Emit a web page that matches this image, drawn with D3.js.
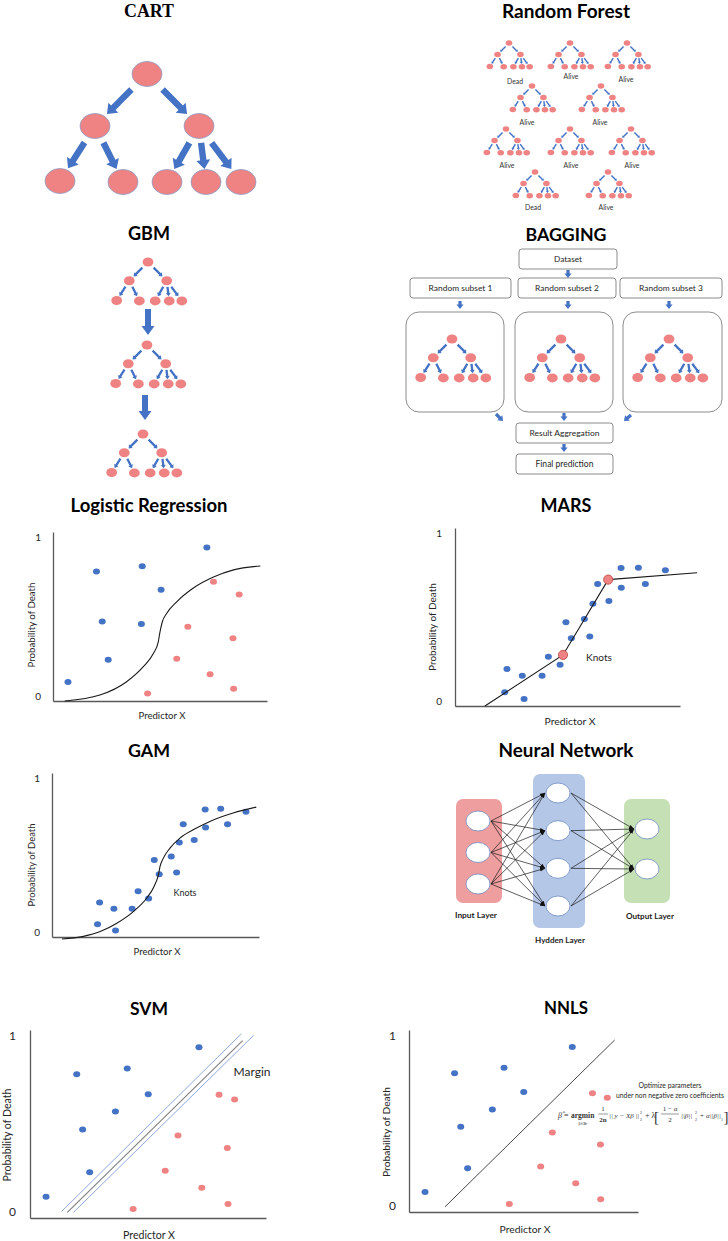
<!DOCTYPE html>
<html><head><meta charset="utf-8">
<script src="https://cdn.jsdelivr.net/npm/d3@7"></script>
<style>body{margin:0;background:#fff}svg{display:block}</style>
</head><body>
<svg id="c" width="728" height="1241"></svg>
<script>
// ================= DATA =================
const titles = ["CART","Random Forest","GBM","BAGGING","Logistic Regression","MARS","GAM","Neural Network","SVM","NNLS"];
const forestVotes = ["Dead","Alive","Alive","Alive","Alive","Alive","Alive","Alive","Dead","Alive"];
const gbmStages = [1,2,3];
const baggingSubsets = ["Random subset 1","Random subset 2","Random subset 3"];
const baggingFlow = ["Dataset","Result Aggregation","Final prediction"];
const yTickLabels = ["0","1"];
const xAxisTitle = "Predictor X";
const yAxisTitle = "Probability of Death";
const knotsLabel = "Knots";
const marginLabel = "Margin";
const nnLayerNames = ["Input Layer","Hydden Layer","Output Layer"];
const nnLayerSizes = [3,4,2];
const nnlsNote = ["Optimize parameters","under non negative zero coefficients"];

const logisticBlue = [[.070,.112],[.203,.766],[.230,.470],[.258,.244],[.417,.797],[.413,.455],[.505,.659],[.719,.909]];
const logisticPink = [[.442,.045],[.578,.250],[.630,.439],[.750,.705],[.870,.630],[.841,.372],[.734,.159],[.844,.073]];
const logisticCurve = [[.055,0],[.219,.035],[.344,.114],[.422,.203],[.469,.281],[.492,.350],[.5,.409],[.511,.469],[.531,.518],[.578,.587],[.656,.669],[.75,.734],[.844,.776],[.969,.799]];

const marsPoints = [[.221,.077],[.231,.208],[.299,.170],[.307,.039],[.387,.170],[.415,.277],[.467,.232],[.493,.470],[.517,.380],[.575,.489],[.599,.391],[.613,.575],[.634,.685],[.684,.590],[.738,.775],[.739,.665],[.815,.777],[.846,.685],[.935,.762]];
const marsLine = [[.133,0],[.48,.287],[.681,.710],[1.076,.749]];
const marsKnots = [[.48,.287],[.681,.710]];

const gamPoints = [[.220,.077],[.230,.210],[.299,.173],[.307,.039],[.387,.173],[.416,.279],[.467,.234],[.494,.470],[.518,.383],[.576,.491],[.602,.393],[.615,.576],[.634,.688],[.687,.591],[.740,.778],[.742,.668],[.815,.782],[.848,.688],[.937,.764]];
const gamCurve = [[.048,-.012],[.152,.004],[.233,.033],[.313,.084],[.393,.155],[.457,.236],[.493,.308],[.514,.379],[.522,.430],[.538,.481],[.570,.542],[.618,.603],[.682,.654],[.763,.705],[.875,.756],[.987,.792]];

const svmBlue = [[.068,.113],[.198,.765],[.223,.471],[.253,.244],[.412,.795],[.362,.566],[.501,.658],[.716,.908]];
const svmPink = [[.437,.048],[.573,.251],[.627,.439],[.801,.655],[.867,.630],[.836,.373],[.728,.161],[.839,.074]];
const svmHyperplane = [[.158,.030],[.901,.943]];
const svmMarginUpper = [[.134,.035],[.895,.979]];
const svmMarginLower = [[.184,.030],[.948,.972]];

const nnlsBlue = [[.070,.110],[.199,.763],[.226,.468],[.256,.240],[.415,.793],[.364,.563],[.501,.659],[.713,.906]];
const nnlsPink = [[.438,.044],[.575,.250],[.626,.437],[.801,.653],[.866,.628],[.836,.371],[.728,.158],[.837,.070]];
const nnlsLine = [[.157,.028],[.898,.945]];

// ================= STYLE / LAYOUT =================
const FONT = "Lato, 'Open Sans', 'Liberation Sans', sans-serif";
const SERIF = "'Liberation Serif', 'DejaVu Serif', serif";
const PINK = "#EF8383", BLUE = "#4472C4", AXIS = "#595959";
const svg = d3.select("#c");
svg.append("rect").attr("width",728).attr("height",1241).attr("fill","#fff");

// tree template (relative units)
const treeNodes = [{id:"r",x:0,y:0},{id:"a",x:-52,y:52},{id:"b",x:52,y:52},
  {id:"a1",x:-87,y:107},{id:"a2",x:-24,y:108},{id:"b1",x:20,y:108},{id:"b2",x:59,y:108},{id:"b3",x:94,y:108}];
const treeEdges = [["r","a"],["r","b"],["a","a1"],["a","a2"],["b","b1"],["b","b2"],["b","b3"]];

function fitW(sel, w){
  sel.each(function(){
    const fs = parseFloat(this.getAttribute("font-size"));
    const L = this.getComputedTextLength();
    if (L > 0) this.setAttribute("font-size", (fs*w/L).toFixed(2));
  });
  return sel;
}
function label(g, x, y, txt, w, o={}){
  const t = g.append("text").attr("x",x).attr("y",y).text(txt)
    .attr("text-anchor", o.anchor||"middle").attr("font-family", o.family||FONT)
    .attr("font-size", o.size||10).attr("font-weight", o.weight||"normal")
    .attr("fill", o.fill||"#262626");
  if (o.transform) t.attr("transform", o.transform);
  if (w) fitW(t, w);
  return t;
}
function blockArrow(g, x1,y1,x2,y2, w, hw, hl, color){
  const dx=x2-x1, dy=y2-y1, L=Math.hypot(dx,dy), ux=dx/L, uy=dy/L, nx=-uy, ny=ux;
  const bx=x2-ux*hl, by=y2-uy*hl;
  const pts=[[x1+nx*w,y1+ny*w],[bx+nx*w,by+ny*w],[bx+nx*hw,by+ny*hw],[x2,y2],
             [bx-nx*hw,by-ny*hw],[bx-nx*w,by-ny*w],[x1-nx*w,y1-ny*w]];
  g.append("path").attr("d", d3.line()(pts)+"Z").attr("fill", color||BLUE);
}
function drawTree(g, cx, cy, s, stroke){
  const sx = d3.scaleLinear().domain([0,1]).range([cx, cx+s]);
  const sy = d3.scaleLinear().domain([0,1]).range([cy, cy+s]);
  const byId = new Map(treeNodes.map(d=>[d.id,d]));
  treeEdges.forEach(([p,c])=>{
    const a=byId.get(p), b=byId.get(c), t0=0.3, t1=0.77;
    blockArrow(g, sx(a.x+(b.x-a.x)*t0), sy(a.y+(b.y-a.y)*t0),
                  sx(a.x+(b.x-a.x)*t1), sy(a.y+(b.y-a.y)*t1), 3.2*s, 7*s, 9*s, BLUE);
  });
  g.selectAll(null).data(treeNodes).join("ellipse")
    .attr("cx",d=>sx(d.x)).attr("cy",d=>sy(d.y)).attr("rx",15*s).attr("ry",12.5*s)
    .attr("fill",PINK).attr("stroke", stroke||"none").attr("stroke-width",0.8);
}

// ---------- titles ----------
const titleLayout = [[149,17,50,true],[566,17.5,128],[149,240,42],[566,241,81],[149,512,157],
  [566,512,51],[149,757,42],[566,757,135],[149,1015,38],[566,1014,44]];
const tg = svg.append("g");
titles.forEach((t,i)=>{
  const [x,y,w,serif] = titleLayout[i];
  label(tg, x, y, t, w, {size:19, weight:"bold", family: serif?SERIF:FONT, fill:"#000"});
});

// ---------- CART ----------
drawTree(svg.append("g"), 147, 74, 1, "#8E9CC4");

// ---------- Random forest ----------
const forestRoots = [[509,43],[570,43],[627,43],[532,86],[601,86],[506,129],[570,129],[631,129],[535,172],[608,172]];
const forestLabelPos = [[515,84],[571,79],[626,82],[527,125],[600,125],[507,168],[571,168],[632,168],[533,210],[606,210]];
const fg = svg.append("g");
forestVotes.forEach((v,i)=>{
  drawTree(fg, forestRoots[i][0], forestRoots[i][1], 0.22);
  label(fg, forestLabelPos[i][0], forestLabelPos[i][1], v, v==="Dead"?16:15, {size:8, fill:"#333"});
});

// ---------- GBM ----------
const gbmRoots = [[148,262],[147,345],[143,434]];
const gbmArrows = [[148,309,148,335],[145,395,145,420]];
const gg = svg.append("g");
gbmStages.forEach((s,i)=>{
  drawTree(gg, gbmRoots[i][0], gbmRoots[i][1], 0.36);
  if (i < gbmStages.length-1){ const a=gbmArrows[i]; blockArrow(gg, a[0],a[1],a[2],a[3], 3, 6.5, 9, BLUE); }
});

// ---------- BAGGING ----------
const bg = svg.append("g");
function box(x0,y0,x1,y1,r){ bg.append("rect").attr("x",x0).attr("y",y0).attr("width",x1-x0).attr("height",y1-y0)
  .attr("rx",r).attr("fill","#fff").attr("stroke","#7F7F7F").attr("stroke-width",0.9); }
const flowBoxes = [[519,249,617,269,28],[516,423,613,443,70],[516,454,613,474,58]];
baggingFlow.forEach((t,i)=>{ const b=flowBoxes[i]; box(b[0],b[1],b[2],b[3],3);
  label(bg,(b[0]+b[2])/2,(b[1]+b[3])/2+3.3,t,b[4],{size:9.5,fill:"#262626"}); });
const subsetBoxes = [[410,278,511,298],[518,278,616,298],[620,278,722,298]];
const bigBoxes = [[406,312,504,412],[515,312,613,412],[623,312,722,412]];
const bagRoots = [[452,339],[561,339],[669,339]];
const subsetArrowX = [460,568,669];
const outArrows = [[496,414,503,421],[564,413,564,421],[631,415,624,421]];
baggingSubsets.forEach((t,i)=>{
  const b=subsetBoxes[i]; box(b[0],b[1],b[2],b[3],3);
  label(bg,(b[0]+b[2])/2,(b[1]+b[3])/2+3.3,t,64,{size:9.5});
  const B=bigBoxes[i]; box(B[0],B[1],B[2],B[3],13);
  drawTree(bg, bagRoots[i][0], bagRoots[i][1], 0.36);
  blockArrow(bg, subsetArrowX[i],301, subsetArrowX[i],309, 1.6,3.6,4.5,BLUE);
  const a=outArrows[i]; blockArrow(bg,a[0],a[1],a[2],a[3],1.6,3.6,4.5,BLUE);
});
blockArrow(bg,568,270,568,278,1.6,3.6,4.5,BLUE);
blockArrow(bg,564,444,564,452,1.6,3.6,4.5,BLUE);

// ---------- scatter panels ----------
function scatterPanel(c){
  const g = svg.append("g");
  const x = d3.scaleLinear().domain([0,1]).range([c.left,c.right]);
  const y = d3.scaleLinear().domain([0,1]).range([c.bottom,c.top]);
  const gy = g.append("g").attr("transform",`translate(${c.left},0)`)
    .call(d3.axisLeft(y).tickValues([0,1]).tickFormat((d,i)=>yTickLabels[i]).tickSize(0).tickSizeOuter(0).tickPadding(c.pad));
  const gx = g.append("g").attr("transform",`translate(0,${c.bottom})`)
    .call(d3.axisBottom(x).tickValues([]).tickSize(0).tickSizeOuter(0));
  [gy,gx].forEach(a=>a.select(".domain").attr("stroke",AXIS).attr("stroke-width",1.3));
  gy.selectAll(".tick text").attr("font-family",FONT).attr("font-size",c.tickFs).attr("fill","#262626")
    .attr("y", d=> d===1 ? c.tickOff : -c.tickOff);
  label(g, 0, 0, yAxisTitle, c.ytw, {size:10, transform:`translate(${c.ytx},${c.yty}) rotate(-90)`}).attr("dy","0.35em");
  label(g, c.xtx, c.xty, xAxisTitle, c.xtw, {size:10.5});
  return {g,x,y};
}
function dots(p, data, color, rx, ry){
  p.g.append("g").selectAll("ellipse").data(data).join("ellipse")
    .attr("cx",d=>p.x(d[0])).attr("cy",d=>p.y(d[1])).attr("rx",rx||3.5).attr("ry",ry||3).attr("fill",color);
}
function curve(p, data, color, w, type){
  p.g.append("path").attr("d", d3.line().x(d=>p.x(d[0])).y(d=>p.y(d[1])).curve(type||d3.curveLinear)(data))
    .attr("fill","none").attr("stroke",color).attr("stroke-width",w);
}

// Logistic regression
const lr = scatterPanel({left:53,right:267,top:532,bottom:701,pad:12,tickFs:10,tickOff:5,
  ytx:32,yty:625,ytw:85,xtx:162,xty:719,xtw:47});
curve(lr, logisticCurve, "#1a1a1a", 1.1, d3.curveMonotoneX);
dots(lr, logisticBlue, BLUE); dots(lr, logisticPink, PINK);

// MARS
const mars = scatterPanel({left:455,right:680,top:528,bottom:706,pad:13,tickFs:10,tickOff:5,
  ytx:432,yty:627,ytw:88,xtx:570,xty:725,xtw:51});
dots(mars, marsPoints, BLUE);
curve(mars, marsLine, "#1a1a1a", 1.1);
mars.g.append("g").selectAll("circle").data(marsKnots).join("circle")
  .attr("cx",d=>mars.x(d[0])).attr("cy",d=>mars.y(d[1])).attr("r",4.6)
  .attr("fill",PINK).attr("stroke","#C0504D").attr("stroke-width",0.9);
label(mars.g, 599, 661, knotsLabel, 26, {size:9.5});

// GAM
const gam = scatterPanel({left:52,right:259,top:773,bottom:937,pad:12,tickFs:10,tickOff:5,
  ytx:32,yty:865,ytw:83,xtx:157,xty:955,xtw:47});
dots(gam, gamPoints, BLUE);
curve(gam, gamCurve, "#1a1a1a", 1.1, d3.curveMonotoneX);
label(gam.g, 185, 896, knotsLabel, 23, {size:9.5});

// SVM
const svm = scatterPanel({left:30,right:266,top:1030,bottom:1218,pad:14,tickFs:12,tickOff:6,
  ytx:7,yty:1135,ytw:93,xtx:149,xty:1239,xtw:52});
curve(svm, svmMarginUpper, "#8FAADC", 1);
curve(svm, svmMarginLower, "#8FAADC", 1);
curve(svm, svmHyperplane, "#7F7F7F", 1.1);
dots(svm, svmBlue, BLUE); dots(svm, svmPink, PINK);
label(svm.g, 252, 1076, marginLabel, 37, {size:11});

// NNLS
const nn2 = scatterPanel({left:409,right:638,top:1030,bottom:1212,pad:13,tickFs:12,tickOff:6,
  ytx:386,yty:1132,ytw:90,xtx:525,xty:1233,xtw:51});
curve(nn2, nnlsLine, "#333", 0.9);
dots(nn2, nnlsBlue, BLUE); dots(nn2, nnlsPink, PINK);
label(nn2.g, 670, 1088, nnlsNote[0], 63, {size:7});
label(nn2.g, 670, 1098, nnlsNote[1], 108, {size:7});
// formula
const fg2 = nn2.g.append("g").attr("font-family",SERIF).attr("fill","#333");
function ft(x,y,t,s,o={}){ fg2.append("text").attr("x",x).attr("y",y).attr("font-size",s).attr("font-weight",o.w||"normal")
  .attr("font-style",o.i?"italic":"normal").attr("text-anchor",o.a||"start").text(t); }
function fl(x0,x1,y){ fg2.append("line").attr("x1",x0).attr("x2",x1).attr("y1",y).attr("y2",y).attr("stroke","#333").attr("stroke-width",0.5); }
ft(558,1118,"β̂",8,{i:true}); ft(564,1118,"=",8);
ft(571,1118,"argmin",7.5,{w:"bold"}); ft(583,1124.5,"β∈ℝᵖ",3.8,{a:"middle"});
ft(603,1111,"1",7,{a:"middle"}); fl(598.5,608,1114); ft(603,1121.5,"2n",7,{a:"middle",w:"bold"});
ft(609,1118,"|| y − Xβ ||",7,{i:true}); ft(640,1114,"2",4); ft(640,1121,"2",4);
ft(645,1118,"+ λ",8);
ft(654,1121.5,"[",15);
ft(670,1111,"1 − α",7,{a:"middle"}); fl(661,679,1114); ft(670,1121.5,"2",7,{a:"middle"});
ft(681,1118,"||β||",7,{i:true}); ft(695,1114,"2",4); ft(695,1121,"2",4);
ft(699.5,1118,"+ α||β||",7,{i:true}); ft(721,1121,"1",4);
ft(723.5,1121.5,"]",15);

// ---------- Neural network ----------
const ng = svg.append("g");
const nnRects = [[456,799,502,903,"#EE9E9E"],[533,774,585,928,"#B4C7E7"],[624,799,670,903,"#C5E0B4"]];
const nnX = [478,558,647];
const nnYRange = [[821,884],[793,906],[829,869]];
const nnLabelPos = [[476,918],[560,943],[650,919]];
const defs = svg.append("defs");
defs.append("marker").attr("id","ah").attr("viewBox","0 0 10 10").attr("refX",10).attr("refY",5)
  .attr("markerWidth",5).attr("markerHeight",5).attr("markerUnits","userSpaceOnUse").attr("orient","auto")
  .append("path").attr("d","M0,1.5L10,5L0,8.5Z").attr("fill","#111");
const layers = nnLayerSizes.map((n,i)=>{
  const sy = d3.scaleLinear().domain([0,n-1]).range(nnYRange[i]);
  return d3.range(n).map(k=>({x:nnX[i], y:sy(k)}));
});
nnRects.forEach(r=>ng.append("rect").attr("x",r[0]).attr("y",r[1]).attr("width",r[2]-r[0]).attr("height",r[3]-r[1]).attr("rx",7).attr("fill",r[4]));
const RX=12, RY=10;
for (let l=0;l<layers.length-1;l++){
  layers[l].forEach(a=>layers[l+1].forEach(b=>{
    ng.append("line").attr("x1",a.x+RX+1).attr("y1",a.y).attr("x2",b.x-RX-1).attr("y2",b.y)
      .attr("stroke","#1a1a1a").attr("stroke-width",0.7).attr("marker-end","url(#ah)");
  }));
}
layers.flat().forEach(d=>ng.append("ellipse").attr("cx",d.x).attr("cy",d.y).attr("rx",RX).attr("ry",RY)
  .attr("fill","#fff").attr("stroke","#6F8DC0").attr("stroke-width",0.8));
nnLayerNames.forEach((t,i)=>label(ng, nnLabelPos[i][0], nnLabelPos[i][1], t, [42,50,48][i], {size:8.5, weight:"bold", fill:"#222"}));
</script>
</body></html>
